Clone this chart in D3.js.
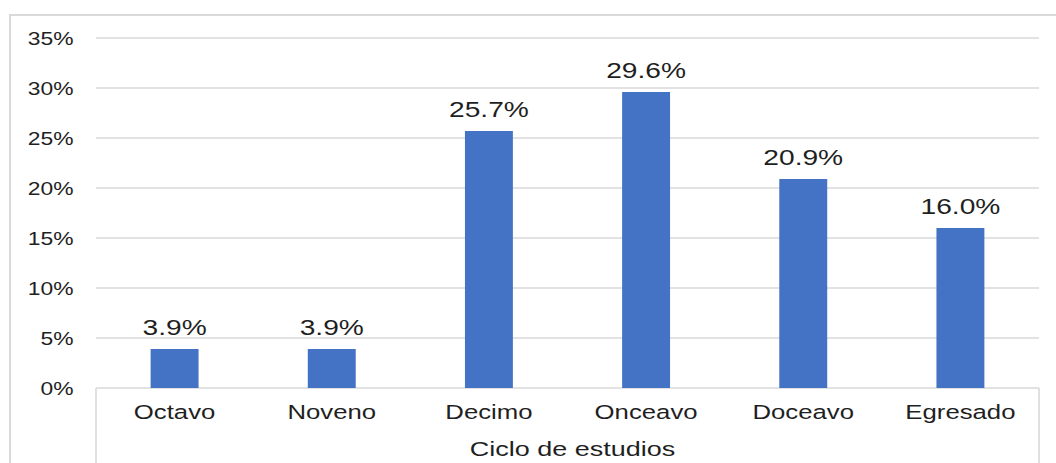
<!DOCTYPE html>
<html>
<head>
<meta charset="utf-8">
<script src="https://cdn.jsdelivr.net/npm/d3@7"></script>
<style>
  html, body { margin: 0; padding: 0; background: #fff; }
  svg { display: block; }
  text { font-family: "Liberation Sans", Arial, sans-serif; fill: #1f1f1f; }
</style>
</head>
<body>
<div id="chart"></div>
<script>
// data
const categories = ['Octavo', 'Noveno', 'Decimo', 'Onceavo', 'Doceavo', 'Egresado'];
const values = [3.9, 3.9, 25.7, 29.6, 20.9, 16.0];
const yTicks = [0, 5, 10, 15, 20, 25, 30, 35];
const axisTitle = 'Ciclo de estudios';

const W = 1056, H = 463;
const plot = { left: 96, right: 1039, top: 38, bottom: 388 };
const grid = '#d9d9d9';

const svg = d3.select('#chart').append('svg')
    .attr('width', W)
    .attr('height', H);

// outer chart frame (cut off at right and bottom)
svg.append('rect')
    .attr('x', 10).attr('y', 15)
    .attr('width', 1200).attr('height', 600)
    .attr('fill', 'none')
    .attr('stroke', grid)
    .attr('stroke-width', 2);

const x = d3.scaleBand()
    .domain(categories)
    .range([plot.left, plot.right])
    .paddingInner(0.695)
    .paddingOuter(0.3475);

const y = d3.scaleLinear()
    .domain([0, 35])
    .range([plot.bottom, plot.top]);

// source image is stretched sideways, so text gets a horizontal scale
const label = (g, tx, ty, str, size, sx, anchor) => g.append('text')
    .attr('transform', `translate(${tx},${ty}) scale(${sx},1)`)
    .attr('text-anchor', anchor || 'middle')
    .attr('font-size', size)
    .text(str);

// y axis: gridlines + labels
const yAxis = svg.append('g').attr('class', 'y-axis');
yTicks.forEach(t => {
    yAxis.append('line')
        .attr('x1', plot.left).attr('x2', plot.right)
        .attr('y1', y(t)).attr('y2', y(t))
        .attr('stroke', grid)
        .attr('stroke-width', 1.6);
    label(yAxis, 73.5, y(t) + 6.5, t + '%', 18, 1.27, 'end');
});

// category box below the axis
svg.append('line')
    .attr('x1', plot.left).attr('x2', plot.left)
    .attr('y1', plot.bottom).attr('y2', H + 5)
    .attr('stroke', grid).attr('stroke-width', 1.6);
svg.append('line')
    .attr('x1', plot.right).attr('x2', plot.right)
    .attr('y1', plot.bottom).attr('y2', H + 5)
    .attr('stroke', grid).attr('stroke-width', 1.6);

// bars
svg.append('g')
    .selectAll('rect')
    .data(values)
    .enter()
    .append('rect')
    .attr('x', (d, i) => x(categories[i]))
    .attr('y', d => y(d))
    .attr('width', x.bandwidth())
    .attr('height', d => y(0) - y(d))
    .attr('fill', '#4472c4');

// value labels
const vals = svg.append('g');
values.forEach((d, i) => {
    label(vals, x(categories[i]) + x.bandwidth() / 2, y(d) - 14, d.toFixed(1) + '%', 22, 1.28);
});

// category labels
const cats = svg.append('g');
categories.forEach(c => {
    label(cats, x(c) + x.bandwidth() / 2, 419, c, 19.5, 1.32);
});

// axis title
label(svg, 572.5, 456, axisTitle, 20, 1.35);
</script>
</body>
</html>
